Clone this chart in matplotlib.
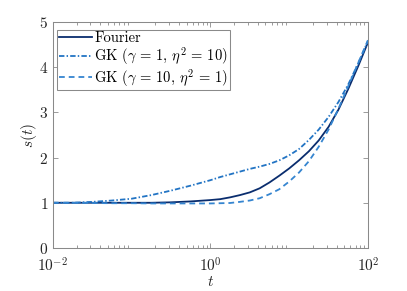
import numpy as np
import matplotlib
matplotlib.use("Agg")
import matplotlib.pyplot as plt

plt.rcParams['font.family'] = 'serif'
plt.rcParams['font.serif'] = ['cmr10']
plt.rcParams['mathtext.fontset'] = 'cm'
plt.rcParams['axes.formatter.use_mathtext'] = True
plt.rcParams['axes.unicode_minus'] = False

# log10(t) sample positions
log_t = [-2, -1.75, -1.5, -1.25, -1, -0.75, -0.5, -0.25, 0, 0.125, 0.25, 0.375, 0.5,
         0.625, 0.75, 0.875, 1.0, 1.125, 1.25, 1.375, 1.5, 1.625, 1.75, 1.875, 2.0]

s_fourier = [1.0, 1.0, 1.0, 1.0, 1.0, 1.0, 1.01, 1.03, 1.06, 1.08, 1.12, 1.17, 1.23,
             1.32, 1.45, 1.60, 1.76, 1.94, 2.14, 2.38, 2.68, 3.06, 3.52, 4.02, 4.55]
s_gk1 = [1.0, 1.0, 1.02, 1.05, 1.09, 1.17, 1.27, 1.38, 1.50, 1.57, 1.63, 1.69, 1.75,
         1.80, 1.86, 1.94, 2.05, 2.19, 2.39, 2.62, 2.90, 3.23, 3.62, 4.08, 4.58]
s_gk2 = [1.0, 1.0, 0.995, 0.99, 0.99, 0.985, 0.985, 0.985, 0.985, 0.99, 0.995, 1.02, 1.05,
         1.10, 1.19, 1.30, 1.47, 1.67, 1.92, 2.24, 2.62, 3.08, 3.58, 4.09, 4.60]

labels = ['Fourier', r'GK ($\gamma\,=\,1$, $\eta^2\,=\,10$)', r'GK ($\gamma\,=\,10$, $\eta^2\,=\,1$)']
colors = ['#0a2d6e', '#2274c4', '#3585d0']

t = 10.0 ** np.array(log_t)

fig = plt.figure(figsize=(4.07, 2.91), dpi=100)
ax = fig.add_axes([0.130, 0.148, 0.774, 0.776])

ax.plot(t, s_fourier, '-', color=colors[0], lw=1.3, label=labels[0])
ax.plot(t, s_gk1, '-.', color=colors[1], lw=1.3, label=labels[1], dashes=(3.0, 1.2, 0.8, 1.2))
ax.plot(t, s_gk2, '--', color=colors[2], lw=1.3, label=labels[2], dashes=(3.2, 2.2))

ax.set_xscale('log')
ax.set_xlim(1e-2, 1e2)
ax.set_ylim(0, 5)
ax.set_xticks([1e-2, 1e0, 1e2])
ax.set_yticks([0, 1, 2, 3, 4, 5])

axcol = '#262626'
for sp in ax.spines.values():
    sp.set_color('#8a8a8a')
    sp.set_linewidth(0.75)
ax.tick_params(which='both', direction='in', top=True, right=True, color='#8a8a8a',
               labelcolor=axcol, labelsize=11, width=0.6)
ax.tick_params(which='major', length=3.5)
ax.tick_params(which='minor', length=2)
ax.tick_params(axis='x', pad=6)

ax.set_xlabel(r'$t$', fontsize=11, color=axcol, labelpad=0)
ax.set_ylabel(r'$s(t)$', fontsize=11, color=axcol, labelpad=0)

leg = ax.legend(loc='upper left', fontsize=10.5, fancybox=False, framealpha=1,
                edgecolor='#8a8a8a', handlelength=2.3, handletextpad=0.15,
                borderpad=0.1, labelspacing=0.0, borderaxespad=0.3,
                bbox_to_anchor=(0.0, 0.985))
leg.get_frame().set_linewidth(0.75)

fig.savefig('out.png', dpi=100)
